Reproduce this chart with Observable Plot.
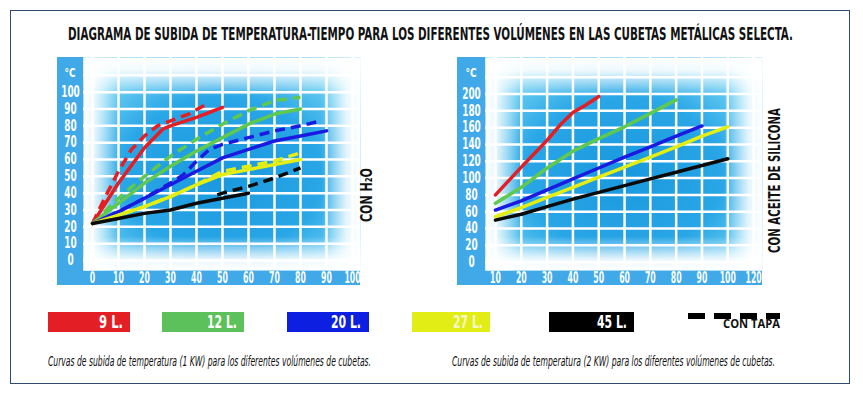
<!DOCTYPE html>
<html><head><meta charset="utf-8">
<script src="https://cdn.jsdelivr.net/npm/d3@7"></script>
<script src="https://cdn.jsdelivr.net/npm/@observablehq/plot@0.6"></script>
<style>
body{margin:0;background:#fff;}
#wrap{position:relative;width:863px;height:393px;overflow:hidden;font-family:"Liberation Sans Narrow","DejaVu Sans Condensed",sans-serif;}
.leg{position:absolute;top:312px;height:20px;}
#frameBox{position:absolute;left:10px;top:10px;width:838px;height:372px;border:1px solid #2f4b6e;}
.plot{position:absolute;top:57px;}
#overlay{position:absolute;left:0;top:0;pointer-events:none;}
</style></head><body>
<svg width="0" height="0" style="position:absolute"><defs>
<radialGradient id="bgGrad" cx="0.5" cy="0.55" r="0.65">
 <stop offset="0" stop-color="#1a98de"/>
 <stop offset="0.55" stop-color="#28a6e6"/>
 <stop offset="1" stop-color="#86def8"/>
</radialGradient>
<linearGradient id="fadeX" x1="0" x2="1" y1="0" y2="0">
 <stop offset="0" stop-color="#fff" stop-opacity="1"/>
 <stop offset="0.04" stop-color="#fff" stop-opacity="0.85"/>
 <stop offset="0.13" stop-color="#fff" stop-opacity="0"/>
 <stop offset="0.86" stop-color="#fff" stop-opacity="0"/>
 <stop offset="0.95" stop-color="#fff" stop-opacity="0.85"/>
 <stop offset="1" stop-color="#fff" stop-opacity="1"/>
</linearGradient>
<linearGradient id="fadeY" x1="0" x2="0" y1="0" y2="1">
 <stop offset="0" stop-color="#fff" stop-opacity="1"/>
 <stop offset="0.06" stop-color="#fff" stop-opacity="0.9"/>
 <stop offset="0.18" stop-color="#fff" stop-opacity="0"/>
 <stop offset="0.84" stop-color="#fff" stop-opacity="0"/>
 <stop offset="0.95" stop-color="#fff" stop-opacity="0.9"/>
 <stop offset="1" stop-color="#fff" stop-opacity="1"/>
</linearGradient>
</defs></svg>
<div id="wrap">
  <div id="frameBox"></div>
  <div id="left" class="plot" style="left:57px"></div>
  <div id="right" class="plot" style="left:457px"></div>
  <div id="legend"></div>
  <div style="position:absolute;left:688px;top:313px;width:92px;height:6px;background:repeating-linear-gradient(to right,#000 0 17px,transparent 17px 26px);"></div>
  <svg id="overlay" width="863" height="393"></svg>
</div>
<script>
// ---------- Data ----------
const seriesNames  = ["9 L.", "12 L.", "20 L.", "27 L.", "45 L."];
const seriesColors = ["#e41e25", "#5fc94f", "#1a1ae0", "#e4ee12", "#0a0a0a"];
const legendColors = ["#e31e24", "#5cc15b", "#0d1fe0", "#e1ed14", "#000000"];
const legendText   = ["#ffffff", "#ffffff", "#ffffff", "#f6f7c8", "#ffffff"];

// 1 KW, water (minutes, °C) — solid lines
const kw1_9L_x  = [0, 10, 20, 27, 30, 40, 50];
const kw1_9L_y  = [22, 46, 67, 78, 80, 85, 91];
const kw1_12L_x = [0, 10, 20, 30, 40, 50, 60, 70, 80];
const kw1_12L_y = [22, 34, 46, 56, 65, 73, 81, 87, 90];
const kw1_20L_x = [0, 10, 20, 30, 40, 50, 60, 70, 80, 90];
const kw1_20L_y = [22, 29, 37, 45, 53, 61, 66, 71, 74, 77];
const kw1_27L_x = [0, 10, 20, 30, 40, 50, 60, 70, 80];
const kw1_27L_y = [22, 27, 32, 38, 45, 51, 54, 57, 60];
const kw1_45L_x = [0, 10, 20, 30, 40, 50, 60];
const kw1_45L_y = [22, 25, 28, 30, 34, 37, 40];

// 1 KW, water — with lid (dashed)
const tapa_9L_x  = [0, 5, 10, 15, 20, 25, 30, 37, 44];
const tapa_9L_y  = [22, 38, 53, 66, 74, 80, 83, 87, 93];
const tapa_12L_x = [0, 10, 20, 30, 40, 50, 60, 70, 80];
const tapa_12L_y = [22, 37, 50, 62, 72, 81, 89, 95, 97];
const tapa_20L_x = [0, 10, 20, 30, 35, 40, 45, 50, 60, 70, 80, 88];
const tapa_20L_y = [22, 29, 37, 46, 51, 59, 66, 69, 73, 77, 80, 83];
const tapa_27L_x = [0, 10, 20, 30, 40, 50, 60, 70, 80];
const tapa_27L_y = [22, 27, 32, 38, 45, 53, 56, 59, 64];
const tapa_45L_x = [48, 50, 60, 70, 80];
const tapa_45L_y = [39, 40, 44, 49, 55];

// 2 KW, silicone oil (minutes, °C)
const kw2_9L_x  = [10, 20, 30, 35, 40, 45, 50];
const kw2_9L_y  = [80, 113, 145, 163, 178, 187, 197];
const kw2_12L_x = [10, 20, 30, 40, 50, 60, 70, 80];
const kw2_12L_y = [70, 89, 112, 132, 147, 161, 177, 193];
const kw2_20L_x = [10, 20, 30, 40, 50, 60, 70, 80, 90];
const kw2_20L_y = [62, 73, 86, 99, 112, 125, 137, 150, 162];
const kw2_27L_x = [10, 20, 30, 40, 50, 60, 70, 80, 90, 100];
const kw2_27L_y = [54, 65, 77, 89, 101, 113, 125, 137, 150, 161];
const kw2_45L_x = [10, 20, 30, 40, 50, 60, 70, 80, 90, 100];
const kw2_45L_y = [50, 57, 66, 75, 83, 91, 99, 107, 115, 123];

// Ticks
const xTicksL  = [0, 10, 20, 30, 40, 50, 60, 70, 80, 90, 100];
const yTicksL  = [0, 10, 20, 30, 40, 50, 60, 70, 80, 90, 100];
const yGridL   = [0, 10, 20, 30, 40, 50, 60, 70, 80, 90, 100, 110];
const xTicksR  = [10, 20, 30, 40, 50, 60, 70, 80, 90, 100, 110];
const xLabelsR = ["10", "20", "30", "40", "50", "60", "70", "80", "90", "100", "120"];
const yTicksR  = [0, 20, 40, 60, 80, 100, 120, 140, 160, 180, 200];
const yGridR   = [0, 20, 40, 60, 80, 100, 120, 140, 160, 180, 200, 220];

const title = "DIAGRAMA DE SUBIDA DE TEMPERATURA-TIEMPO PARA LOS DIFERENTES VOLÚMENES EN LAS CUBETAS METÁLICAS SELECTA.";
const capLeft = "Curvas de subida de temperatura (1 KW) para los diferentes volúmenes de cubetas.";
const capRight = "Curvas de subida de temperatura (2 KW) para los diferentes volúmenes de cubetas.";
const sideLeft = "CON H₂O";
const sideRight = "CON ACEITE DE SILICONA";
const tapaLabel = "CON TAPA";
const unitLabel = "°C";

// ---------- Build tables ----------
function rows(pairs) {
  const out = [];
  pairs.forEach(([xs, ys], i) => xs.forEach((x, j) => out.push({s: seriesNames[i], x, y: ys[j]})));
  return out;
}
const solidL = rows([[kw1_9L_x,kw1_9L_y],[kw1_12L_x,kw1_12L_y],[kw1_20L_x,kw1_20L_y],[kw1_27L_x,kw1_27L_y],[kw1_45L_x,kw1_45L_y]]);
const dashL  = rows([[tapa_9L_x,tapa_9L_y],[tapa_12L_x,tapa_12L_y],[tapa_20L_x,tapa_20L_y],[tapa_27L_x,tapa_27L_y],[tapa_45L_x,tapa_45L_y]]);
const solidR = rows([[kw2_9L_x,kw2_9L_y],[kw2_12L_x,kw2_12L_y],[kw2_20L_x,kw2_20L_y],[kw2_27L_x,kw2_27L_y],[kw2_45L_x,kw2_45L_y]]);

const FONT = '"Liberation Sans Narrow","DejaVu Sans Condensed",sans-serif';
const STRIP = "#41a9e8";

function chart({solid, dashed, width, marginLeft, xDomain, yDomain, xTicks, xFormat, yTicks, xGrid, yGrid}) {
  const marks = [
    Plot.frame({fill: "url(#bgGrad)"}),
    Plot.ruleX(xGrid, {stroke: "white", strokeWidth: 2.5}),
    Plot.ruleY(yGrid, {stroke: "white", strokeWidth: 2.5}),
    Plot.frame({fill: "url(#fadeX)"}),
    Plot.frame({fill: "url(#fadeY)"})
  ];
  if (dashed) marks.push(Plot.line(dashed, {x: "x", y: "y", z: "s", stroke: "s", strokeWidth: 3.5, strokeDasharray: "10,6", strokeLinecap: "butt"}));
  marks.push(Plot.line(solid, {x: "x", y: "y", z: "s", stroke: "s", strokeWidth: 3.5, strokeLinejoin: "round"}));
  marks.push(Plot.axisX({ticks: xTicks, tickSize: 0, tickPadding: 7.5, lineAnchor: "middle", tickFormat: xFormat, label: null}));
  marks.push(Plot.axisY({ticks: yTicks, tickSize: 0, tickPadding: marginLeft / 2, textAnchor: "middle", tickFormat: d => String(d), label: null}));
  const svg = Plot.plot({
    width, height: 228,
    marginLeft, marginRight: 0, marginTop: 0, marginBottom: 15,
    x: {domain: xDomain, label: null},
    y: {domain: yDomain, label: null},
    color: {domain: seriesNames, range: seriesColors},
    style: {background: STRIP, color: "white", fontFamily: FONT, fontSize: "15px", fontWeight: "bold", overflow: "visible"},
    marks
  });
  // condense tick labels to mimic the narrow typeface
  d3.select(svg).selectAll("g[aria-label='x-axis tick label'] text").each(function () {
    const n = this.textContent.length;
    this.setAttribute("textLength", n * 5.4);
    this.setAttribute("lengthAdjust", "spacingAndGlyphs");
  });
  d3.select(svg).selectAll("g[aria-label='y-axis tick label'] text").each(function () {
    const n = this.textContent.length;
    this.setAttribute("textLength", n * 6.2);
    this.setAttribute("lengthAdjust", "spacingAndGlyphs");
  });
  return svg;
}

const labR = new Map(xTicksR.map((t, i) => [t, xLabelsR[i]]));
document.getElementById("left").append(chart({
  solid: solidL, dashed: dashL, width: 303, marginLeft: 26,
  xDomain: [-3.46, 103.08], yDomain: [-5.94, 120.6],
  xTicks: xTicksL, xFormat: d => String(d), yTicks: yTicksL, xGrid: xTicksL, yGrid: yGridL
}));
document.getElementById("right").append(chart({
  solid: solidR, dashed: null, width: 305, marginLeft: 28,
  xDomain: [6.13, 113.45], yDomain: [-9.9, 243.4],
  xTicks: xTicksR, xFormat: d => labR.get(d), yTicks: yTicksR, xGrid: xTicksR, yGrid: yGridR
}));

// ---------- Legend ----------
const legLeft = [48, 162, 287, 412, 549];
const legWidth = [82, 82, 82, 78, 85];
const legTextEnd = [123, 237, 361, 483, 627];
const legend = document.getElementById("legend");
const ov = d3.select("#overlay");
seriesNames.forEach((n, i) => {
  const d = document.createElement("div");
  d.className = "leg";
  d.style.left = legLeft[i] + "px";
  d.style.width = legWidth[i] + "px";
  d.style.background = legendColors[i];
  legend.append(d);
  ov.append("text").attr("x", legTextEnd[i] - n.length * 6).attr("y", 328)
    .attr("textLength", n.length * 6).attr("lengthAdjust", "spacingAndGlyphs")
    .attr("font-family", FONT).attr("font-weight", "bold").attr("font-size", 18).attr("fill", legendText[i]).text(n);
});

// ---------- Texts ----------
ov.append("text").attr("x", 68).attr("y", 40).attr("textLength", 725).attr("lengthAdjust", "spacingAndGlyphs")
  .attr("font-family", FONT).attr("font-weight", "bold").attr("font-size", 17).attr("fill", "#111").text(title);
[[48, capLeft], [452, capRight]].forEach(([x, t]) =>
  ov.append("text").attr("x", x).attr("y", 366).attr("textLength", 323).attr("lengthAdjust", "spacingAndGlyphs")
    .attr("font-family", FONT).attr("font-style", "italic").attr("font-size", 14).attr("fill", "#111").text(t));
[70, 471].forEach(x =>
  ov.append("text").attr("x", x - 5.5).attr("y", 77).attr("textLength", 11).attr("lengthAdjust", "spacingAndGlyphs")
    .attr("font-family", FONT).attr("font-weight", "bold").attr("font-size", 13).attr("fill", "#fff").text(unitLabel));
[[367, 195, 54, 15, sideLeft], [774, 180.5, 145, 16, sideRight]].forEach(([x, y, len, fs, t]) =>
  ov.append("text").attr("transform", `translate(${x},${y}) rotate(-90)`).attr("x", -len / 2).attr("y", 0)
    .attr("dominant-baseline", "central").attr("textLength", len).attr("lengthAdjust", "spacingAndGlyphs")
    .attr("font-family", FONT).attr("font-weight", "bold").attr("font-size", fs).attr("fill", "#111").text(t));
ov.append("text").attr("x", 723).attr("y", 328).attr("textLength", 57).attr("lengthAdjust", "spacingAndGlyphs")
  .attr("font-family", '"Open Sans",sans-serif').attr("font-weight", "bold").attr("font-size", 11.5).attr("fill", "#111").text(tapaLabel);
</script>
</body></html>
